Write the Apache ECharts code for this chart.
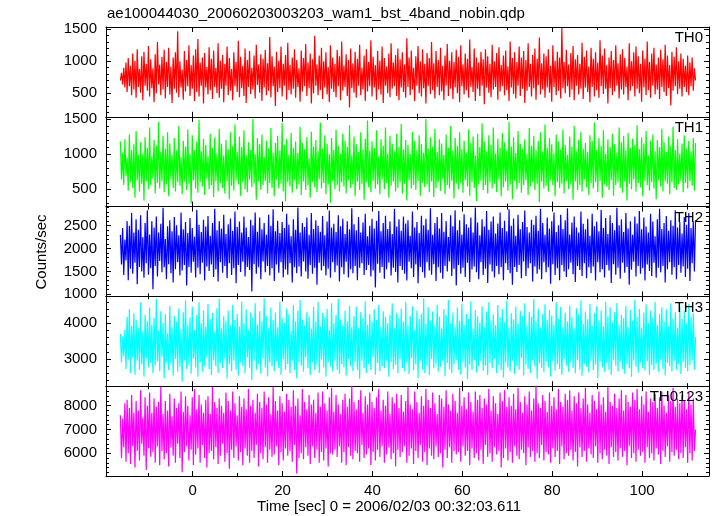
<!DOCTYPE html>
<html><head><meta charset="utf-8">
<script src="https://cdn.jsdelivr.net/npm/echarts@6/dist/echarts.min.js"></script>
<style>html,body{margin:0;padding:0;background:#fff}#c{width:717px;height:516px}</style>
</head><body><div id="c"></div>
<script>
// time bins (s): first bin start and bin width
const tStart = -16.1;
const tStep = 0.25;

const th0 = [
700,820,640,900,590,980,520,1050,610,930,470,1120,560,1010,430,1190,600,880,510,1080,
390,1150,620,960,540,1240,450,1030,580,890,360,1110,500,1300,640,950,470,1070,560,1180,
420,990,600,1210,480,920,350,1060,570,1140,510,1470,440,1000,590,870,400,1160,530,1020,
610,1250,460,940,570,1090,380,1190,520,1350,450,980,620,1060,340,1130,590,910,480,1220,
550,1040,410,1170,600,900,500,1280,430,1010,570,1100,360,960,620,1230,470,1050,540,880,
390,1140,610,990,520,1320,440,1070,580,930,460,1200,350,1020,600,1160,490,900,560,1090,
420,1260,630,950,510,1110,380,1040,590,1180,470,970,540,1380,440,1080,610,920,300,1150,
520,1010,580,1230,450,960,620,1100,400,1290,550,940,480,1060,570,1190,430,1020,600,890,
370,1170,530,1050,610,1270,460,980,580,1120,340,1030,500,1400,620,950,470,1090,550,1210,
410,1000,590,1140,480,910,360,1250,570,1060,520,960,440,1180,610,1080,390,1310,540,930,
600,1110,460,1020,280,1200,580,970,510,1150,430,1040,620,1260,470,900,560,1090,380,1190,
530,990,610,1330,450,1070,590,940,400,1160,560,1010,480,1230,350,1050,620,920,500,1120,
440,1280,570,980,610,1100,460,1200,390,1030,590,1140,520,950,430,1360,600,1060,470,1170,
560,900,380,1080,620,1240,500,1000,450,1190,580,960,340,1130,610,1050,490,1300,550,970,
420,1160,600,1020,470,1210,530,930,390,1090,620,1270,460,1010,570,1140,410,990,590,1180,
500,1070,360,1250,610,950,480,1120,550,1040,430,1340,600,910,520,1200,380,1060,570,980,
460,1150,620,1030,330,1190,590,1080,510,960,440,1260,560,1000,600,1130,400,1220,530,940,
610,1090,470,1170,550,920,380,1310,590,1050,490,1140,420,990,620,1230,460,1060,570,1160,
350,1020,540,1280,600,960,450,1100,580,1200,400,1040,630,1370,480,970,560,1120,430,1080,
590,1190,510,930,370,1250,600,1010,470,1150,540,1060,420,1520,580,990,500,1180,610,950,
440,1130,560,1240,390,1030,620,1100,480,960,570,1290,410,1070,590,1170,520,920,360,1210,
600,1040,450,1140,550,980,430,1330,610,1090,490,1200,570,940,340,1060,580,1160,470,1020,
530,1250,620,970,420,1110,560,1190,480,1050,600,920,390,1280,540,1000,610,1140,450,1230,
570,1080,500,960,370,1170,590,1040,470,1310,550,990,430,1120,620,1210,480,950,560,1060,
410,1180,600,1030,520,1260,460,1090,580,940,310,1150,540,1070,610,1220,490,1000,570,1120,
450,1040,600,930,520,1090,470,980,610,1060,540,890,700
];
const th1 = [
1180,640,1020,560,1210,690,950,480,1280,600,1060,520,1140,380,1330,630,990,470,1170,580,
1010,340,1240,610,1090,500,1380,560,970,650,1200,440,1120,590,1460,510,1030,620,1260,460,
1080,570,1310,400,1150,640,990,520,1230,470,1050,600,1400,550,960,430,1190,610,1110,490,
1350,580,1000,300,1270,630,1060,510,1180,450,1490,600,1040,540,1220,420,1130,650,970,500,
1290,560,1090,390,1240,620,1010,470,1360,590,1150,520,980,440,1200,610,1070,360,1310,550,
1120,480,1420,630,1030,570,1250,410,1100,600,1340,500,990,460,1170,640,1060,530,1500,580,
1000,350,1230,610,1140,490,1280,560,960,620,1190,440,1080,590,1370,520,1020,400,1160,640,
1260,510,1050,580,1440,470,1130,330,1210,600,990,540,1300,450,1090,630,1180,500,1020,570,
1390,420,1160,610,1070,490,1240,560,950,380,1320,600,1110,530,1200,460,1040,640,1450,510,
1080,590,1270,430,1150,570,1000,310,1230,620,1060,500,1350,560,1120,470,1010,600,1290,540,
1190,440,1100,630,1410,520,980,570,1250,400,1140,610,1030,490,1310,580,1070,350,1220,600,
1480,530,1050,460,1180,620,1090,510,1340,570,970,430,1210,640,1120,500,1380,590,1010,380,
1260,550,1150,610,1040,470,1290,520,1100,600,1430,440,1070,580,1200,340,1130,630,1000,510,
1320,560,1190,490,1060,620,1270,410,1140,590,1020,530,1500,570,1080,460,1240,610,1110,390,
1360,520,1030,600,1210,480,1150,640,990,430,1280,560,1090,510,1400,620,1050,370,1230,580,
1120,500,1310,590,1070,450,1190,630,1020,540,1350,410,1160,600,1250,520,980,330,1290,570,
1100,620,1440,490,1180,560,1040,440,1270,600,1130,510,1380,580,1010,460,1220,640,1090,400,
1300,530,1170,610,1050,480,1460,570,1110,360,1240,620,1020,500,1330,590,1150,450,1080,560,
1210,630,1000,420,1370,540,1120,600,1260,490,1060,580,1190,320,1310,610,1040,510,1420,550,
1090,470,1230,630,1140,560,1010,400,1280,600,1180,520,1070,580,1350,440,1130,620,990,500,
1250,570,1110,350,1400,610,1040,490,1200,560,1320,470,1080,640,1160,530,1030,420,1270,590,
1190,510,1450,600,1060,460,1230,620,1120,380,1340,570,1000,540,1210,490,1100,630,1290,410,
1140,560,1020,600,1380,520,1170,450,1260,610,1050,340,1300,580,1090,500,1220,640,1130,470,
1410,590,1070,530,1240,400,1150,620,1330,560,980,480,1190,600,1280,510,1040,360,1200,630,
1100,540,1360,470,1170,610,1030,580,1250,430,1120,600,1390,520,1060,490,1210,570,1010,620,
1150,460,1270,590,1080,510,1190,620,1040,550,1230,480,1160
];
const th2 = [
2300,1650,2450,1420,2200,1740,2600,1310,2500,1560,2780,1450,2350,1690,2640,1220,2410,1600,2730,1500,
2250,1360,2560,1680,2840,1430,2310,1570,2600,1110,2460,1620,2700,1390,2350,1730,2540,1480,2890,1590,
2210,1330,2490,1660,2620,1460,2380,1260,2690,1550,2510,1700,2290,1410,2790,1520,2420,1640,2580,1190,
2340,1600,2670,1470,2450,1710,2260,1370,2850,1580,2520,1440,2360,1690,2630,1300,2480,1610,2710,1510,
2280,1650,2560,1380,2870,1540,2400,1280,2600,1700,2440,1470,2740,1620,2320,1350,2530,1680,2660,1420,
2390,1570,2810,1240,2470,1640,2590,1490,2350,1710,2700,1390,2460,1600,2250,1530,2630,1060,2510,1660,
2790,1450,2370,1590,2680,1330,2420,1720,2560,1480,2300,1620,2740,1410,2500,1570,2860,1290,2380,1650,
2610,1470,2340,1700,2580,1370,2450,1540,2760,1430,2520,1680,2270,1260,2640,1590,2410,1460,2900,1610,
2350,1390,2560,1720,2470,1500,2680,1340,2300,1640,2780,1450,2430,1580,2620,1210,2500,1690,2370,1520,
2710,1620,2290,1410,2590,1560,2830,1360,2460,1700,2540,1480,2360,1630,2730,1280,2490,1590,2650,1440,
2320,1710,2600,1370,2420,1550,2880,1460,2530,1620,2400,1310,2690,1580,2350,1680,2570,1420,2760,1530,
2270,1640,2500,1390,2650,1520,2440,1150,2610,1670,2820,1470,2380,1600,2560,1340,2720,1550,2430,1690,
2590,1410,2320,1580,2870,1490,2480,1260,2640,1620,2390,1530,2700,1450,2550,1300,2620,1710,2280,1570,
2810,1380,2460,1650,2580,1240,2340,1600,2720,1480,2510,1360,2650,1700,2410,1520,2880,1430,2300,1660,
2560,1290,2690,1590,2440,1470,2780,1340,2370,1620,2600,1500,2250,1720,2730,1400,2490,1560,2840,1190,
2400,1640,2620,1450,2310,1580,2750,1380,2530,1690,2460,1270,2680,1540,2350,1610,2900,1480,2570,1330,
2290,1700,2640,1420,2480,1560,2820,1250,2410,1650,2590,1500,2700,1370,2330,1620,2550,1440,2790,1590,
2450,1310,2610,1680,2380,1530,2860,1460,2500,1210,2660,1600,2280,1490,2740,1640,2420,1350,2580,1720,
2830,1400,2470,1570,2350,1680,2630,1280,2520,1610,2720,1450,2390,1540,2870,1330,2560,1700,2300,1480,
2680,1590,2440,1230,2600,1660,2790,1420,2360,1570,2510,1310,2740,1640,2430,1500,2620,1380,2880,1550,
2310,1690,2570,1440,2700,1270,2460,1620,2350,1530,2810,1400,2540,1680,2420,1350,2650,1590,2280,1460,
2760,1610,2490,1300,2590,1700,2380,1480,2850,1550,2450,1370,2670,1640,2320,1520,2730,1250,2560,1660,
2400,1430,2890,1580,2510,1340,2640,1690,2360,1470,2780,1600,2440,1210,2600,1540,2300,1710,2700,1390,
2550,1620,2820,1450,2420,1570,2680,1300,2480,1650,2350,1510,2760,1400,2590,1690,2270,1360,2640,1580,
2870,1480,2430,1620,2560,1260,2710,1550,2390,1700,2620,1430,2500,1590,2840,1330,2460,1640,2580,1470,
2330,1610,2690,1380,2520,1560,2780,1290,2450,1680,2600,1500,2620
];
const th3 = [
3700,2900,3620,3080,3810,2720,4180,2980,4390,2610,3920,3040,4280,2560,4090,2950,3860,2700,4580,2850,
3760,2510,4240,3010,4060,2760,4440,2890,3960,2600,4150,2810,4690,2940,3800,2660,4340,3060,4010,2460,
4260,2900,3710,2690,4490,2860,3890,2540,4210,3000,4040,2640,4410,2790,3840,2360,4310,2960,4640,2710,
3950,2840,4160,2590,4460,3010,3810,2760,4240,2500,4590,2900,4000,2650,4350,2800,3910,3050,4540,2710,
4110,2550,4290,2960,3760,2800,4420,2610,4690,2890,3860,2750,4200,3000,4060,2450,4360,2850,3940,2660,
4510,2950,4090,2700,4260,2540,3910,2900,4610,2800,4010,2600,4390,3040,3820,2740,4300,2410,4150,2960,
4560,2700,3960,2850,4340,2590,4060,3010,4700,2760,4210,2510,3860,2910,4440,2800,4090,2650,4300,2940,
3890,2750,4600,2560,4140,2990,4010,2700,4410,2860,4250,2600,3790,2950,4510,2700,4050,2460,4360,2900,
4650,2810,4100,2640,3940,3050,4310,2740,4190,2550,3850,2910,4460,2690,4040,2840,4600,2610,3910,2990,
4290,2760,4160,2510,4400,2900,3810,2790,4560,2650,4000,2960,4240,2700,4680,2590,4110,2850,3950,2760,
4350,2540,4060,3000,4490,2800,3890,2660,4200,2910,4460,2700,3860,2450,4310,2950,4140,2740,4610,2610,
3960,2860,4260,2690,4050,3040,4390,2560,4100,2890,4510,2660,3910,2800,4340,2740,4190,2950,4010,2500,
4240,2900,4560,2710,3860,2840,4300,2600,4150,2990,4410,2750,4040,2650,4600,2900,3940,2580,4210,3020,
4480,2680,3820,2850,4360,2470,4120,2960,4270,2700,4700,2610,3990,2810,4450,2560,4080,3000,4330,2740,
3920,2870,4520,2640,4180,2780,3850,2950,4400,2520,4230,2890,4650,2710,4000,2600,4300,2850,3890,2980,
4440,2700,4070,2560,4550,2910,3960,2760,4260,2430,4120,2840,4610,2690,3840,2970,4370,2620,4200,2800,
4020,2940,4480,2670,3900,2810,4330,2550,4590,2880,4080,2740,4250,3000,3950,2600,4510,2830,4160,2690,
4390,2480,4030,2910,4640,2760,3870,2650,4280,2950,4110,2580,4470,2800,3980,2700,4350,3030,4210,2540,
4560,2860,3930,2720,4320,2610,4180,2970,4680,2790,4040,2450,4410,2880,3880,2750,4270,2630,4530,2920,
4090,2770,4370,2500,4220,2940,3960,2680,4590,2850,4130,2720,4460,2560,3900,2990,4300,2810,4060,2640,
4500,2900,4170,2750,3860,2600,4420,2960,4250,2700,4640,2530,3990,2870,4330,2780,4110,2620,4550,2950,
3940,2690,4280,2840,4480,2470,4070,2920,4360,2760,3910,2640,4600,2890,4200,2700,4450,2550,4030,2980,
4310,2810,4570,2650,3960,2940,4240,2720,4140,2590,4490,2860,3890,2740,4380,2500,4080,2960,4660,2780,
4190,2620,4400,2900,3880,2750,4300,2680,4530,2940,4010,2560,4350,2830,4170,2700,4600,2870,3950,2640,
4270,2980,4450,2720,4060,2540,4390,2890,3920,2800,4560,2650,4140,2950,4320,2700,3870,2860,4480,2580,
4120,2910,4360,2750,4000,2660,4550,2830,4180,2960,4290,2700,3620
];
const th0123 = [
7600,5800,7450,6250,8100,5650,8250,6000,7900,5550,8450,6300,7700,5400,8200,6100,7800,5700,8650,6400,
7500,5900,8350,5300,8000,6200,8550,5850,7700,6050,8300,5600,7950,6300,8150,5500,8800,6100,7650,5750,
8200,6000,7800,5450,8500,6250,7550,5900,8300,5600,7900,6400,8100,5800,8600,5200,7750,6050,8400,6300,
8000,5700,7600,6150,8350,5500,8700,5950,7850,6200,8450,5600,8050,6350,7700,5800,8250,5400,8400,6000,
7650,6100,8800,5750,8150,6250,7900,5550,8300,5900,8000,6400,7700,5650,8550,6000,8200,5350,7800,6150,
8600,5800,8100,6300,7600,5700,8400,6050,7950,5500,8300,6200,7850,5900,8700,5600,8000,6100,8250,5800,
7700,6350,8500,5450,8150,6000,7900,5750,8600,6250,8050,5600,8350,6150,7650,5850,8800,5950,8200,6300,
7800,5500,8400,6050,8100,5700,7750,6200,8500,5900,8250,6100,7950,5650,8650,6350,8000,5150,8300,5800,
7600,6000,8700,5750,8150,6250,7850,5900,8450,5550,8050,6300,8250,5800,7700,6150,8550,5600,7950,6050,
8600,5700,8100,6200,7800,5450,8350,6000,8750,5950,7750,6150,8450,5850,8050,6300,7650,5600,8250,6050,
8500,5500,7950,6250,8300,5900,8850,5750,8150,6100,7850,6000,8250,5650,8650,6350,7700,5800,8400,5950,
8050,6200,8550,5500,8150,6050,7900,5700,8350,6150,8700,5850,7800,6300,8250,5600,8000,5950,8600,6250,
7650,5750,8350,6000,8100,5450,8500,6150,7900,5850,8450,6050,7750,6300,8200,5600,8800,5900,8050,6200,
7850,5550,8600,6100,8150,5800,7700,6350,8400,5650,8000,6050,8700,5500,8250,6200,7900,5900,8550,5750,
8100,6300,7650,5850,8450,6000,8300,5400,7950,6150,8650,5800,8050,6250,7800,5600,8500,6100,8200,5950,
7700,6050,8750,5650,8000,6300,8350,5900,7850,6100,8550,5500,8150,6200,7750,5800,8600,6000,8250,5700,
8450,6150,7900,5550,8300,6350,8050,5850,8700,6000,7800,5650,8400,6250,8100,5950,7650,6100,8550,5400,
8200,5800,8650,6200,7950,5700,8350,6050,8000,5600,8500,6300,7850,5900,8750,5750,8150,6150,7700,6000,
8400,5500,8050,6250,8600,5850,7800,6100,8300,5650,8850,6000,8100,5800,7900,6350,8450,5700,8200,6050,
7750,5950,8550,5600,8000,6200,8350,5850,7850,6100,8700,5550,8150,6300,7950,5750,8500,6000,8250,5900,
8650,6150,7800,5700,8400,6050,8100,5450,8550,6250,7900,5850,8300,6100,8750,5650,8050,6200,7700,5950,
8450,5800,8200,6300,7850,5600,8600,6000,8050,5750,8350,6150,7750,5900,8800,5550,8150,6250,8000,5850,
8500,6050,7900,5700,8300,6200,8650,5850,7800,6100,8450,5500,8150,6300,7950,5800,8550,6000,8250,5650,
8700,6150,7850,5900,8400,6050,8050,5600,8600,6250,7750,5800,8300,6000,8150,5700,8500,6200,7900,5950,
8350,5550,8600,6100,8000,5850,7700,6300,8450,5650,8200,6050,8750,5900,7950,6150,8300,5750,8100,6000,
8450,5800,8200,6250,7850,5600,8550,6000,8050,5700,8300,6100,7000
];

const seriesValues = [th0, th1, th2, th3, th0123];
const panelNames = ['TH0', 'TH1', 'TH2', 'TH3', 'TH0123'];
const xTickLabels = ['0', '20', '40', '60', '80', '100'];
const titleText = 'ae100044030_20060203003203_wam1_bst_4band_nobin.qdp';
const xTitle = 'Time [sec] 0 = 2006/02/03 00:32:03.611';
const yTitle = 'Counts/sec';

// axis ranges
const xRange = [-19.3, 114.9];
const yRanges = [[133, 1536], [254, 1531], [954, 2918], [2238, 4753], [5046, 8819]];
const yMajorStep = [500, 500, 500, 1000, 1000];
const yMinorStep = [100, 100, 100, 200, 200];
const xMajorStep = 20, xMinorStep = 10;

// styles
const colors = ['#ff0000', '#00ff00', '#0000ff', '#00ffff', '#ff00ff'];
const FONT = '"Liberation Sans", Arial, Helvetica, sans-serif';
const plotTop = 27, panelH = 89.8, plotLeft = 106, plotRight = 8;

const chart = echarts.init(document.getElementById('c'), null, {renderer: 'canvas'});

const grids = [], xAxes = [], yAxes = [], series = [], graphics = [];
const lineBlack = {color: '#000', width: 1};

function mkAxis(gi, pos, step, range, tickLen, showLine, label) {
  return {
    type: 'value', gridIndex: gi, position: pos,
    min: range[0], max: range[1],
    minInterval: step, maxInterval: step, splitNumber: 6,
    scale: true,
    splitLine: {show: false},
    axisLine: {show: showLine, onZero: false, lineStyle: lineBlack},
    axisTick: {show: true, inside: true, length: tickLen, lineStyle: lineBlack},
    axisLabel: label ? Object.assign({
      show: true, showMinLabel: false, showMaxLabel: false,
      color: '#000', fontSize: 15, fontFamily: FONT,
      formatter: v => String(v)
    }, label) : {show: false},
    axisPointer: {show: false},
    silent: true
  };
}

for (let i = 0; i < 5; i++) {
  grids.push({left: plotLeft, right: plotRight, top: plotTop + i * panelH, height: panelH, show: false, containLabel: false});
  const last = i === 4;
  xAxes.push(mkAxis(i, 'bottom', xMajorStep, xRange, 5, true,
    last ? {margin: 7, formatter: v => (xTickLabels.indexOf(String(v)) >= 0 ? String(v) : '')} : null));
  xAxes.push(mkAxis(i, 'top', xMajorStep, xRange, 5, true, null));
  xAxes.push(mkAxis(i, 'top', xMinorStep, xRange, 3, false, null));
  xAxes.push(mkAxis(i, 'bottom', xMinorStep, xRange, 3, false, null));
  yAxes.push(mkAxis(i, 'left', yMajorStep[i], yRanges[i], 5, true, {margin: 9}));
  yAxes.push(mkAxis(i, 'right', yMajorStep[i], yRanges[i], 5, true, null));
  yAxes.push(mkAxis(i, 'right', yMinorStep[i], yRanges[i], 3, false, null));
  yAxes.push(mkAxis(i, 'left', yMinorStep[i], yRanges[i], 3, false, null));

  const vals = seriesValues[i];
  series.push({
    type: 'line', name: panelNames[i],
    xAxisIndex: i * 4, yAxisIndex: i * 4,
    data: vals.map((v, k) => [tStart + k * tStep, v]),
    showSymbol: false, symbol: 'none',
    lineStyle: {color: colors[i], width: 1.2},
    itemStyle: {color: colors[i]},
    animation: false, silent: true, clip: true, z: 1
  });

  graphics.push({
    type: 'text', x: 703, y: plotTop + i * panelH + 11, z: 100,
    style: {text: panelNames[i], font: '15px ' + FONT, fill: '#000',
            align: 'right', textAlign: 'right', verticalAlign: 'middle', textVerticalAlign: 'middle'}
  });
}

graphics.push({
  type: 'text', x: 107, y: 14, z: 100,
  style: {text: titleText, font: '15px ' + FONT, fill: '#000',
          align: 'left', textAlign: 'left', verticalAlign: 'middle', textVerticalAlign: 'middle'}
});
graphics.push({
  type: 'text', x: 389, y: 507, z: 100,
  style: {text: xTitle, font: '15px ' + FONT, fill: '#000',
          align: 'center', textAlign: 'center', verticalAlign: 'middle', textVerticalAlign: 'middle'}
});
graphics.push({
  type: 'text', x: 42, y: 252, rotation: Math.PI / 2, z: 100,
  style: {text: yTitle, font: '15px ' + FONT, fill: '#000',
          align: 'center', textAlign: 'center', verticalAlign: 'middle', textVerticalAlign: 'middle'}
});

chart.setOption({
  animation: false,
  backgroundColor: '#fff',
  grid: grids,
  xAxis: xAxes,
  yAxis: yAxes,
  series: series,
  graphic: {elements: graphics}
});
</script>
</body></html>
